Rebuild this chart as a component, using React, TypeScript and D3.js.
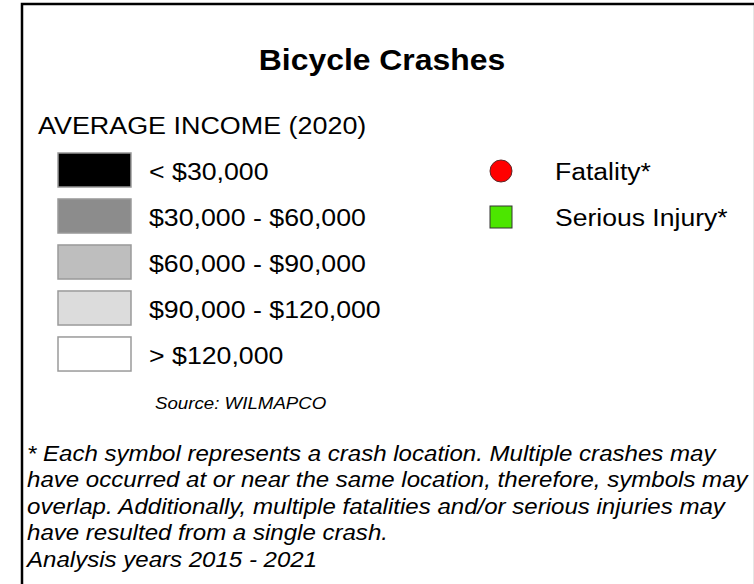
import React from "react";
import * as d3 from "d3";

const incomeLabels = ["< $30,000", "$30,000 - $60,000", "$60,000 - $90,000", "$90,000 - $120,000", "> $120,000"];
const incomeColors = ["#000000", "#8c8c8c", "#bebebe", "#dcdcdc", "#ffffff"];
const crashLabels = ["Fatality*", "Serious Injury*"];
const crashShapes = ["circle", "square"];
const crashColors = ["#ff0000", "#4ce600"];
const footnoteLines = [
  "* Each symbol represents a crash location. Multiple crashes may",
  "have occurred at or near the same location, therefore, symbols may",
  "overlap. Additionally, multiple fatalities and/or serious injuries may",
  "have resulted from a single crash.",
  "Analysis years 2015 - 2021",
];

const font = "'Liberation Sans', Arial, sans-serif";

function T(props: { x: number; y: number; size: number; sx: number; bold?: boolean; italic?: boolean; anchor?: string; children: React.ReactNode }) {
  return (
    <text
      transform={`translate(${props.x},${props.y}) scale(${props.sx},1)`}
      textAnchor={props.anchor || "start"}
      fontFamily={font}
      fontWeight={props.bold ? "bold" : "normal"}
      fontStyle={props.italic ? "italic" : "normal"}
      fontSize={props.size}
      fill="#000"
    >
      {props.children}
    </text>
  );
}

export default function App() {
  const W = 754, H = 584;
  const yIncome = d3.scaleBand<number>().domain(d3.range(incomeLabels.length)).range([147, 377]).paddingInner(0.26).paddingOuter(0.13);
  const yCrash = d3.scalePoint<number>().domain(d3.range(crashLabels.length)).range([171, 217]);
  const yFoot = d3.scalePoint<number>().domain(d3.range(footnoteLines.length)).range([460.5, 566.5]);
  return (
    <svg width={W} height={H} style={{ position: "absolute", left: 0, top: 0, background: "#fff" }}>
      <rect x={22} y={4} width={W + 10} height={H + 10} fill="#fff" stroke="#000" strokeWidth={2.5} />
      <line x1={753.5} y1={6} x2={753.5} y2={H} stroke="#e6e6e6" strokeWidth={1} />
      <T x={382} y={70} size={29} sx={1.1} bold anchor="middle">Bicycle Crashes</T>
      <T x={38} y={134} size={23.5} sx={1.145}>AVERAGE INCOME (2020)</T>
      {incomeLabels.map((lab, i) => {
        const y = yIncome(i)!;
        const h = yIncome.bandwidth();
        return (
          <g key={lab}>
            <rect x={58} y={y} width={73} height={h} fill={incomeColors[i]} stroke="#9a9a9a" strokeWidth={1.5} />
            <T x={149} y={y + h / 2 + 10} size={23.5} sx={1.137}>{lab}</T>
          </g>
        );
      })}
      {crashLabels.map((lab, i) => {
        const cy = yCrash(i)!;
        return (
          <g key={lab}>
            {crashShapes[i] === "circle" ? (
              <circle cx={501} cy={cy} r={11} fill={crashColors[i]} stroke="#5a2a2a" strokeWidth={1} />
            ) : (
              <rect x={490} y={cy - 11} width={22} height={22} fill={crashColors[i]} stroke="#333" strokeWidth={1} />
            )}
            <T x={555} y={cy + 9} size={23.5} sx={1.13}>{lab}</T>
          </g>
        );
      })}
      <T x={155} y={409} size={17} sx={1.1} italic>Source: WILMAPCO</T>
      {footnoteLines.map((l, i) => (
        <T key={i} x={27} y={yFoot(i)!} size={22.3} sx={1.079} italic>{l}</T>
      ))}
    </svg>
  );
}
